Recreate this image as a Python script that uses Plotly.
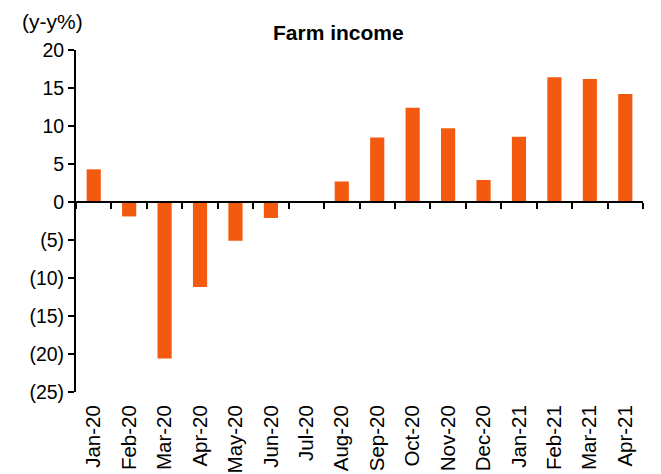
import plotly.graph_objects as go

months = ["Jan-20", "Feb-20", "Mar-20", "Apr-20", "May-20", "Jun-20", "Jul-20", "Aug-20",
          "Sep-20", "Oct-20", "Nov-20", "Dec-20", "Jan-21", "Feb-21", "Mar-21", "Apr-21"]
farm_income = [4.3, -1.9, -20.6, -11.2, -5.1, -2.1, 0.0, 2.7,
               8.5, 12.4, 9.7, 2.9, 8.6, 16.4, 16.2, 14.2]
y_tickvals = [-25, -20, -15, -10, -5, 0, 5, 10, 15, 20]
y_ticktext = ["(25)", "(20)", "(15)", "(10)", "(5)", "0", "5", "10", "15", "20"]

FONT = "Liberation Sans, Arial, sans-serif"
BAR = "#F45A0F"

fig = go.Figure()
fig.add_bar(x=months, y=farm_income, marker_color=BAR, marker_line_width=0,
            width=0.4, xaxis="x", yaxis="y", showlegend=False)
# helper trace so the zero-line axis knows the categories
fig.add_scatter(x=months, y=[None] * len(months), xaxis="x2", yaxis="y",
                mode="markers", showlegend=False, hoverinfo="skip")

ymin, ymax = -25, 20
fig.update_layout(
    width=661, height=474,
    margin=dict(l=76, r=18, t=50, b=82),
    paper_bgcolor="white", plot_bgcolor="white",
    font=dict(family=FONT, size=19, color="black"),
    bargap=0.6,
    xaxis=dict(
        type="category", range=[-0.5, len(months) - 0.5],
        showline=False, ticks="", showgrid=False, zeroline=False,
        tickangle=-90, tickfont=dict(size=20.5, color="black"),
        ticklabelstandoff=8, automargin=False,
    ),
    xaxis2=dict(
        type="category", overlaying="x", anchor="free",
        position=(0 - ymin) / (ymax - ymin),
        range=[-0.5, len(months) - 0.5],
        showline=True, linecolor="black", linewidth=2,
        ticks="outside", tickson="boundaries", ticklen=6, tickwidth=2, tickcolor="black",
        showticklabels=False, showgrid=False, zeroline=False, automargin=False,
    ),
    yaxis=dict(
        range=[ymin, ymax], tickvals=y_tickvals, ticktext=y_ticktext,
        showline=True, linecolor="black", linewidth=2,
        ticks="outside", ticklen=6, tickwidth=2, tickcolor="black",
        showgrid=False, zeroline=False, tickfont=dict(size=19.5, color="black"),
        automargin=False,
    ),
    annotations=[
        dict(text="<b>Farm income</b>", xref="paper", yref="paper",
             x=(338 - 76) / 567, y=1 + 17 / 342, xanchor="center", yanchor="middle",
             showarrow=False, font=dict(size=21, color="black")),
        dict(text="(y-y%)", xref="paper", yref="paper",
             x=-(76 - 20) / 567, y=1 + 29 / 342, xanchor="left", yanchor="middle",
             showarrow=False, font=dict(size=21, color="black")),
    ],
)

fig.write_html("out.html")
